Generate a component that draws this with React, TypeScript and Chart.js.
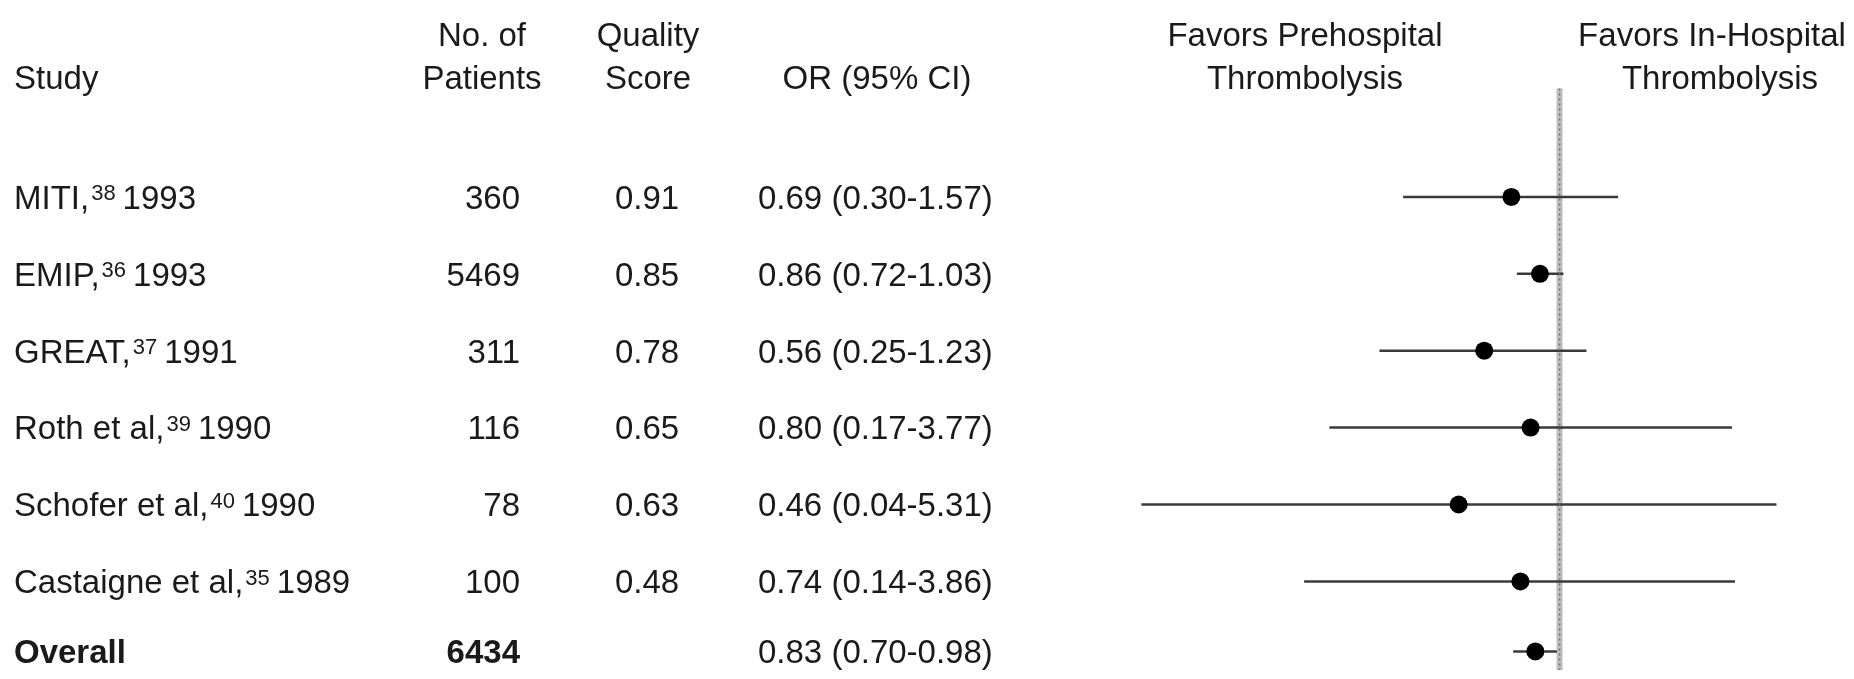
import React, { useEffect, useRef } from "react";
import { Chart, registerables } from "chart.js";

Chart.register(...registerables);

// ---------- data ----------
const studyNames = ["MITI", "EMIP", "GREAT", "Roth et al", "Schofer et al", "Castaigne et al"];
const studyRefs = ["38", "36", "37", "39", "40", "35"];
const studyYears = ["1993", "1993", "1991", "1990", "1990", "1989"];
const patients = [360, 5469, 311, 116, 78, 100];
const qualityScores = ["0.91", "0.85", "0.78", "0.65", "0.63", "0.48"];
const oddsRatios = [0.69, 0.86, 0.56, 0.8, 0.46, 0.74];
const ciLow = [0.3, 0.72, 0.25, 0.17, 0.04, 0.14];
const ciHigh = [1.57, 1.03, 1.23, 3.77, 5.31, 3.86];

const overallLabel = "Overall";
const overallPatients = 6434;
const overallOR = 0.83;
const overallLow = 0.7;
const overallHigh = 0.98;

// row layout (y-scale units)
const studyRows = [1, 2, 3, 4, 5, 6];
const overallRow = 6.91;
const headerRow1 = -1.11;
const headerRow2 = -0.55;
const refLineTop = -0.41;

const headerStudy = "Study";
const headerPatients = ["No. of", "Patients"];
const headerQuality = ["Quality", "Score"];
const headerOR = "OR (95% CI)";
const favorsLeft = ["Favors Prehospital", "Thrombolysis"];
const favorsRight = ["Favors In-Hospital", "Thrombolysis"];

const FONT = '"Liberation Sans", Arial, Helvetica, sans-serif';
const FS = 33;
const SUP_FS = 22;
const TEXT_COLOR = "#1a1a1a";

const fmt = (v: number) => v.toFixed(2);

export default function App() {
  const canvasRef = useRef<HTMLCanvasElement | null>(null);

  useEffect(() => {
    document.body.style.margin = "0";
    const canvas = canvasRef.current;
    if (!canvas) return;

    const tablePlugin = {
      id: "forestTable",
      afterDraw(chart: any) {
        const ctx = chart.ctx as CanvasRenderingContext2D;
        const ys = chart.scales.y;
        ctx.save();
        ctx.fillStyle = TEXT_COLOR;
        ctx.textBaseline = "alphabetic";
        const normal = `${FS}px ${FONT}`;
        const bold = `bold ${FS}px ${FONT}`;
        const small = `${SUP_FS}px ${FONT}`;
        const base = (v: number) => ys.getPixelForValue(v) + FS * 0.358;

        const h1 = base(headerRow1);
        const h2 = base(headerRow2);

        // headers
        ctx.font = normal;
        ctx.textAlign = "left";
        ctx.fillText(headerStudy, 14, h2);
        ctx.textAlign = "center";
        ctx.fillText(headerPatients[0], 482, h1);
        ctx.fillText(headerPatients[1], 482, h2);
        ctx.fillText(headerQuality[0], 648, h1);
        ctx.fillText(headerQuality[1], 648, h2);
        ctx.fillText(headerOR, 877, h2);
        ctx.fillText(favorsLeft[0], 1305, h1);
        ctx.fillText(favorsLeft[1], 1305, h2);
        ctx.fillText(favorsRight[0], 1712, h1);
        ctx.fillText(favorsRight[1], 1720, h2);

        // study rows
        studyNames.forEach((name, i) => {
          const y = base(studyRows[i]);
          ctx.font = normal;
          ctx.textAlign = "left";
          const first = name + ",";
          ctx.fillText(first, 14, y);
          let cx = 14 + ctx.measureText(first).width + 2;
          ctx.font = small;
          ctx.fillText(studyRefs[i], cx, y - FS * 0.26);
          cx += ctx.measureText(studyRefs[i]).width + 7;
          ctx.font = normal;
          ctx.fillText(studyYears[i], cx, y);

          ctx.textAlign = "right";
          ctx.fillText(String(patients[i]), 520, y);
          ctx.textAlign = "center";
          ctx.fillText(qualityScores[i], 647, y);
          ctx.textAlign = "left";
          ctx.fillText(`${fmt(oddsRatios[i])} (${fmt(ciLow[i])}-${fmt(ciHigh[i])})`, 758, y);
        });

        // overall row
        const yo = base(overallRow);
        ctx.font = bold;
        ctx.textAlign = "left";
        ctx.fillText(overallLabel, 14, yo);
        ctx.textAlign = "right";
        ctx.fillText(String(overallPatients), 520, yo);
        ctx.font = normal;
        ctx.textAlign = "left";
        ctx.fillText(`${fmt(overallOR)} (${fmt(overallLow)}-${fmt(overallHigh)})`, 758, yo);
        ctx.restore();
      },
    };

    const whiskerColor = "#3a3a3a";
    const datasets: any[] = [];

    studyNames.forEach((name, i) => {
      datasets.push({
        label: name + " CI",
        data: [
          { x: ciLow[i], y: studyRows[i] },
          { x: ciHigh[i], y: studyRows[i] },
        ],
        showLine: true,
        borderColor: whiskerColor,
        borderWidth: 2.5,
        pointRadius: 0,
        order: 2,
      });
    });
    datasets.push({
      label: "Overall CI",
      data: [
        { x: overallLow, y: overallRow },
        { x: overallHigh, y: overallRow },
      ],
      showLine: true,
      borderColor: whiskerColor,
      borderWidth: 2.5,
      pointRadius: 0,
      order: 2,
    });

    // reference line at OR = 1
    datasets.push({
      label: "No effect",
      data: [
        { x: 1, y: refLineTop },
        { x: 1, y: 8 },
      ],
      showLine: true,
      borderColor: "#bdbdbd",
      borderWidth: 6,
      pointRadius: 0,
      order: 3,
    });
    datasets.push({
      label: "No effect texture",
      data: [
        { x: 1, y: refLineTop },
        { x: 1, y: 8 },
      ],
      showLine: true,
      borderColor: "#707070",
      borderWidth: 1.5,
      borderDash: [2, 3],
      pointRadius: 0,
      order: 1,
    });

    // point estimates
    datasets.push({
      label: "OR",
      data: [
        ...oddsRatios.map((v, i) => ({ x: v, y: studyRows[i] })),
        { x: overallOR, y: overallRow },
      ],
      showLine: false,
      pointRadius: 9,
      pointBackgroundColor: "#000",
      pointBorderWidth: 0,
      order: 0,
    });

    const chart = new Chart(canvas, {
      type: "scatter",
      data: { datasets },
      options: {
        responsive: false,
        animation: false,
        layout: { padding: { left: 1104, right: 5, top: 0, bottom: 0 } },
        plugins: { legend: { display: false }, tooltip: { enabled: false } },
        scales: {
          x: { type: "logarithmic", min: 0.03, max: 9, display: false },
          y: { type: "linear", reverse: true, min: -1.443, max: 7.152, display: false },
        },
      },
      plugins: [tablePlugin],
    });

    return () => chart.destroy();
  }, []);

  return (
    <div style={{ width: 1854, height: 679, background: "#fff" }}>
      <canvas ref={canvasRef} width={1854} height={679} style={{ display: "block" }} />
    </div>
  );
}
